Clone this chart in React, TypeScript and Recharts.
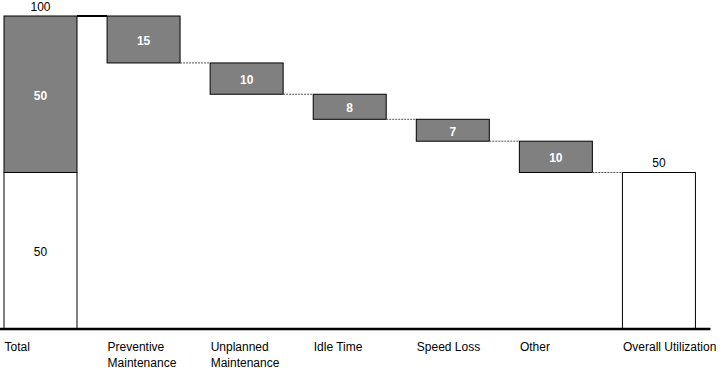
import React from 'react';
import { BarChart, Bar, XAxis, YAxis } from 'recharts';

// ---- data ----
const categories = [
  'Total',
  'Preventive Maintenance',
  'Unplanned Maintenance',
  'Idle Time',
  'Speed Loss',
  'Other',
  'Overall Utilization',
];
const tickLabelLines: string[][] = [
  ['Total'],
  ['Preventive', 'Maintenance'],
  ['Unplanned', 'Maintenance'],
  ['Idle Time'],
  ['Speed Loss'],
  ['Other'],
  ['Overall Utilization'],
];
const totalValue = 100;
const totalUtilizedPart = 50; // white part of the Total bar
const lossValues = [15, 10, 8, 7, 10];
const overallValue = 50;

// ---- layout / style ----
const CHART_W = 736;
const CHART_H = 370;
const MARGIN = { top: 16, right: 14.5, bottom: 0, left: 0 };
const PLOT_W = CHART_W - MARGIN.left - MARGIN.right;
const BAND = PLOT_W / categories.length;
const BAR_SIZE = 73;
const FONT = '"Liberation Sans", Arial, Helvetica, sans-serif';
const GRAY = '#808080';
const LABEL_SHIFT = 1.5;

type Row = {
  name: string;
  base: number;
  white: number;
  gray: number;
  kind: 'total' | 'loss' | 'end';
};

let running = totalValue;
const data: Row[] = categories.map((name, i) => {
  if (i === 0) {
    return { name, base: 0, white: totalUtilizedPart, gray: totalValue - totalUtilizedPart, kind: 'total' };
  }
  if (i === categories.length - 1) {
    return { name, base: 0, white: overallValue, gray: 0, kind: 'end' };
  }
  const loss = lossValues[i - 1];
  running -= loss;
  return { name, base: running, white: 0, gray: loss, kind: 'loss' };
});

const WhiteShape = (p: any) => {
  const { x, y, width, height, payload } = p;
  if (!height || height <= 0) return null;
  const cx = x + width / 2;
  return (
    <g>
      <rect x={x} y={y} width={width} height={height} fill="#fff" stroke="#000" strokeWidth={1} />
      {payload.kind === 'total' && (
        <text x={cx} y={y + height / 2 + LABEL_SHIFT} textAnchor="middle" dominantBaseline="central" fontFamily={FONT} fontSize={12} fill="#000">
          {payload.white}
        </text>
      )}
      {payload.kind === 'end' && (
        <text x={cx} y={y - 6} textAnchor="middle" fontFamily={FONT} fontSize={12} fill="#000">
          {payload.white}
        </text>
      )}
    </g>
  );
};

const GrayShape = (p: any) => {
  const { x, y, width, height, payload } = p;
  if (!height || height <= 0) return null;
  const cx = x + width / 2;
  const isTotal = payload.kind === 'total';
  return (
    <g>
      <rect x={x} y={y} width={width} height={height} fill={GRAY} stroke="#000" strokeWidth={1} />
      {isTotal ? (
        <line x1={x + width} x2={x + BAND} y1={y} y2={y} stroke="#000" strokeWidth={2} />
      ) : (
        <line x1={x + width} x2={x + BAND} y1={y + height} y2={y + height} stroke="#555" strokeWidth={1} strokeDasharray="2 1" />
      )}
      <text x={cx} y={y + height / 2 + LABEL_SHIFT} textAnchor="middle" dominantBaseline="central" fontFamily={FONT} fontSize={12} fontWeight="bold" fill="#fff">
        {payload.gray}
      </text>
      {isTotal && (
        <text x={cx} y={y - 5} textAnchor="middle" fontFamily={FONT} fontSize={12} fill="#000">
          {totalValue}
        </text>
      )}
    </g>
  );
};

const Tick = (p: any) => {
  const { x, y, payload } = p;
  const idx = categories.indexOf(payload.value);
  const lines = idx >= 0 ? tickLabelLines[idx] : [String(payload.value)];
  const left = x - BAR_SIZE / 2 + 0.5;
  return (
    <g>
      {lines.map((ln, i) => (
        <text key={i} x={left} y={y + 22 + i * 16} textAnchor="start" fontFamily={FONT} fontSize={12} fill="#000">
          {ln}
        </text>
      ))}
    </g>
  );
};

export default function App() {
  return (
    <div style={{ position: 'absolute', left: -11, top: 0, width: CHART_W, height: CHART_H }}>
      <BarChart width={CHART_W} height={CHART_H} data={data} margin={MARGIN} barSize={BAR_SIZE}>
        <XAxis
          dataKey="name"
          height={41}
          interval={0}
          tickLine={false}
          tickSize={0}
          tickMargin={0}
          axisLine={{ stroke: '#000', strokeWidth: 2.5 }}
          tick={<Tick />}
        />
        <YAxis hide domain={[0, 100]} type="number" />
        <Bar dataKey="base" stackId="a" fill="transparent" isAnimationActive={false} />
        <Bar dataKey="white" stackId="a" shape={<WhiteShape />} isAnimationActive={false} />
        <Bar dataKey="gray" stackId="a" shape={<GrayShape />} isAnimationActive={false} />
      </BarChart>
    </div>
  );
}
